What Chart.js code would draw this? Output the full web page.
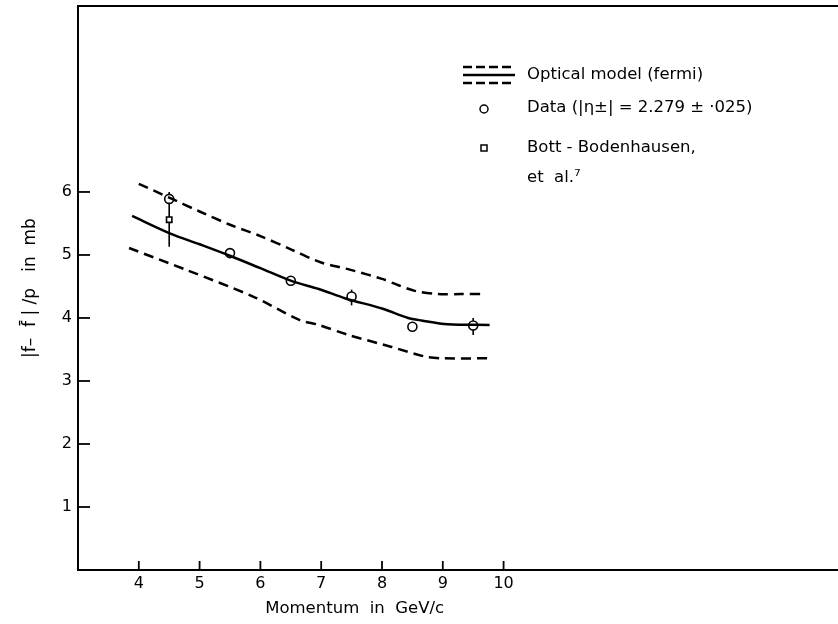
<!DOCTYPE html>
<html><head><meta charset="utf-8">
<script src="https://cdn.jsdelivr.net/npm/chart.js@4.4.1/dist/chart.umd.min.js"></script>
<style>html,body{margin:0;padding:0;background:#fff}#wrap{width:838px;height:624px;position:relative}</style>
</head><body><div id="wrap"><canvas id="c"></canvas></div>
<script>
// ---- data ----
const xTickLabels = [4, 5, 6, 7, 8, 9, 10];
const yTickLabels = [1, 2, 3, 4, 5, 6];

const upperX = [4.0, 4.5, 5.0, 5.5, 6.0, 6.5, 7.0, 7.5, 8.0, 8.27, 8.54, 8.92, 9.3, 9.7];
const upperY = [6.13, 5.91, 5.69, 5.48, 5.30, 5.09, 4.88, 4.76, 4.62, 4.52, 4.43, 4.38, 4.38, 4.38];

const centralX = [3.89, 4.52, 5.0, 5.52, 6.0, 6.53, 6.96, 7.4, 8.0, 8.43, 8.65, 9.08, 9.77];
const centralY = [5.62, 5.34, 5.17, 4.98, 4.79, 4.58, 4.46, 4.31, 4.15, 4.00, 3.96, 3.90, 3.89];

const lowerX = [3.84, 4.79, 5.88, 6.64, 6.96, 7.45, 8.16, 8.70, 9.0, 9.77];
const lowerY = [5.11, 4.76, 4.34, 3.97, 3.89, 3.73, 3.54, 3.39, 3.36, 3.36];

const dataX = [4.5, 5.5, 6.5, 7.5, 8.5, 9.5];
const dataY = [5.89, 5.03, 4.59, 4.34, 3.86, 3.88];
const dataErrLow = [5.89, 5.03, 4.59, 4.20, 3.86, 3.73];
const dataErrHigh = [5.89, 5.03, 4.59, 4.45, 3.86, 4.00];

const bottX = [4.5];
const bottY = [5.56];
const bottErrLow = [5.13];
const bottErrHigh = [6.00];

const legendTexts = ['Optical model (fermi)', 'Data (|\u03B7\u00B1| = 2.279 \u00B1 \u00B7025)', 'Bott - Bodenhausen,', 'et  al.\u2077'];
const xTitle = 'Momentum  in  GeV/c';
const yTitle = '|f\u2013  f\u0304 | /p   in  mb';

const pts = (xs, ys) => xs.map((x, i) => ({x: x, y: ys[i]}));
const FONT = '"DejaVu Sans", sans-serif';

const framePlugin = {
  id: 'frame',
  beforeDatasetsDraw(chart) {
    const ctx = chart.ctx, xs = chart.scales.x, ys = chart.scales.y;
    ctx.save();
    ctx.strokeStyle = '#000';
    ctx.lineWidth = 1.6;
    const bars = [[dataX, dataErrLow, dataErrHigh], [bottX, bottErrLow, bottErrHigh]];
    bars.forEach(([xa, lo, hi]) => {
      xa.forEach((x, i) => {
        if (hi[i] === lo[i]) return;
        const px = xs.getPixelForValue(x);
        ctx.beginPath();
        ctx.moveTo(px, ys.getPixelForValue(lo[i]));
        ctx.lineTo(px, ys.getPixelForValue(hi[i]));
        ctx.stroke();
      });
    });
    ctx.restore();
  },
  afterDraw(chart) {
    const ctx = chart.ctx, a = chart.chartArea, xs = chart.scales.x, ys = chart.scales.y;
    const W = chart.width;
    ctx.save();
    ctx.strokeStyle = '#000';
    ctx.lineWidth = 2;
    ctx.beginPath();
    ctx.moveTo(W, a.top); ctx.lineTo(a.left, a.top);
    ctx.lineTo(a.left, a.bottom); ctx.lineTo(W, a.bottom);
    ctx.stroke();
    // inward ticks
    ctx.lineWidth = 1.8;
    yTickLabels.forEach(v => {
      const py = ys.getPixelForValue(v);
      ctx.beginPath(); ctx.moveTo(a.left, py); ctx.lineTo(a.left + 12, py); ctx.stroke();
    });
    xTickLabels.forEach(v => {
      const px = xs.getPixelForValue(v);
      ctx.beginPath(); ctx.moveTo(px, a.bottom); ctx.lineTo(px, a.bottom - 9); ctx.stroke();
    });
    // x title
    ctx.fillStyle = '#000';
    ctx.font = '16.5px ' + FONT;
    ctx.textAlign = 'center';
    ctx.textBaseline = 'middle';
    ctx.fillText(xTitle, xs.getPixelForValue(7.55), 609);
    // legend
    const lx0 = 463, lx1 = 515, tx = 527;
    ctx.lineWidth = 2.4;
    ctx.setLineDash([9, 4]);
    [67, 83].forEach(y => { ctx.beginPath(); ctx.moveTo(lx0, y); ctx.lineTo(lx1, y); ctx.stroke(); });
    ctx.setLineDash([]);
    ctx.beginPath(); ctx.moveTo(lx0, 75); ctx.lineTo(lx1, 75); ctx.stroke();
    ctx.textAlign = 'left';
    ctx.font = '16.5px ' + FONT;
    ctx.fillText(legendTexts[0], tx, 75);
    ctx.lineWidth = 1.5;
    ctx.beginPath(); ctx.arc(484, 109, 4, 0, Math.PI * 2); ctx.stroke();
    ctx.fillText(legendTexts[1], tx, 108);
    ctx.strokeRect(481, 145, 6, 6);
    ctx.fillText(legendTexts[2], tx, 148);
    ctx.fillText(legendTexts[3], tx, 178);
    ctx.restore();
  }
};

new Chart(document.getElementById('c'), {
  type: 'line',
  data: {
    datasets: [
      {data: pts(upperX, upperY), borderColor: '#000', borderWidth: 2.5, borderDash: [10, 6], pointRadius: 0, tension: 0.3, fill: false},
      {data: pts(centralX, centralY), borderColor: '#000', borderWidth: 2.5, pointRadius: 0, tension: 0.3, fill: false},
      {data: pts(lowerX, lowerY), borderColor: '#000', borderWidth: 2.5, borderDash: [10, 6], pointRadius: 0, tension: 0.3, fill: false},
      {data: pts(dataX, dataY), showLine: false, pointStyle: 'circle', pointRadius: 4.5, pointBorderWidth: 1.6, pointBorderColor: '#000', pointBackgroundColor: '#fff'},
      {data: pts(bottX, bottY), showLine: false, pointStyle: 'rect', pointRadius: 3.8, pointBorderWidth: 1.6, pointBorderColor: '#000', pointBackgroundColor: '#fff'}
    ]
  },
  options: {
    responsive: true,
    maintainAspectRatio: false,
    animation: false,
    layout: {padding: {top: 6, right: 0, left: 0, bottom: 0}},
    plugins: {legend: {display: false}, tooltip: {enabled: false}},
    scales: {
      x: {
        type: 'linear', min: 3, max: 15.4,
        afterFit: s => { s.height = 54; s.paddingLeft = 0; s.paddingRight = 0; },
        afterBuildTicks: s => { s.ticks = xTickLabels.map(v => ({value: v})); },
        ticks: {color: '#000', font: {family: FONT, size: 16}, padding: 4, maxRotation: 0, autoSkip: false},
        grid: {display: false, drawTicks: false},
        border: {display: false}
      },
      y: {
        min: 0, max: 8.95,
        afterFit: s => { s.width = 78; s.paddingTop = 0; s.paddingBottom = 0; },
        afterBuildTicks: s => { s.ticks = yTickLabels.map(v => ({value: v})); },
        ticks: {color: '#000', font: {family: FONT, size: 16}, padding: 6, autoSkip: false},
        grid: {display: false, drawTicks: false},
        border: {display: false},
        title: {display: true, text: yTitle, color: '#000', font: {family: FONT, size: 17}, padding: {top: 20, bottom: 0}}
      }
    }
  },
  plugins: [framePlugin]
});
</script>
</body></html>
